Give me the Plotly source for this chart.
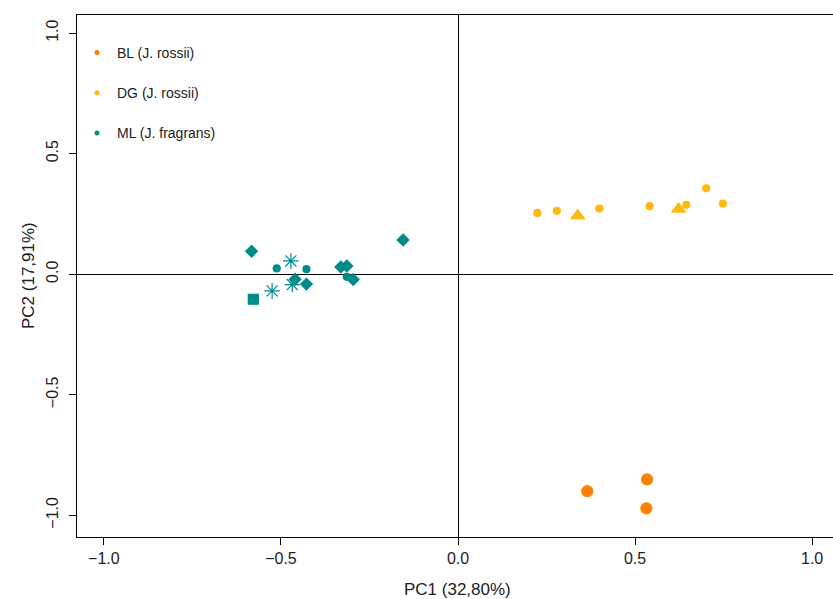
import plotly.graph_objects as go

# ---- data ----
bl_x = [0.365, 0.534, 0.532]
bl_y = [-0.900, -0.851, -0.971]
bl_sym = ["circle", "circle", "circle"]

dg_x = [0.224, 0.279, 0.338, 0.399, 0.541, 0.623, 0.645, 0.701, 0.748]
dg_y = [0.254, 0.263, 0.242, 0.272, 0.282, 0.270, 0.288, 0.356, 0.293]
dg_sym = ["circle", "circle", "triangle-up", "circle", "circle", "triangle-up", "circle", "circle", "circle"]

ml_x = [-0.583, -0.472, -0.512, -0.428, -0.331, -0.314, -0.155, -0.314, -0.296, -0.460, -0.468, -0.428, -0.525, -0.578]
ml_y = [0.095, 0.055, 0.024, 0.021, 0.030, 0.034, 0.142, -0.011, -0.022, -0.021, -0.043, -0.041, -0.069, -0.104]
ml_sym = ["diamond", "asterisk-open", "circle", "circle", "diamond", "diamond", "diamond", "circle",
          "diamond", "diamond", "asterisk-open", "diamond", "asterisk-open", "square"]

groups = ["BL (J. rossii)", "DG (J. rossii)", "ML (J. fragrans)"]
colors = ["#FF7F00", "#FFB90F", "#008B8B"]

x_ticks = [-1.0, -0.5, 0.0, 0.5, 1.0]
y_ticks = [-1.0, -0.5, 0.0, 0.5, 1.0]

SIZE = {"circle": 7, "diamond": 9, "square": 10, "triangle-up": 12, "asterisk-open": 13}

fig = go.Figure()

def add_points(xs, ys, syms, color, big=False):
    sizes = [SIZE[s] + (4 if big and s == "circle" else 0) for s in syms]
    fig.add_trace(go.Scatter(
        x=xs, y=ys, mode="markers", showlegend=False, hoverinfo="skip",
        marker=dict(symbol=syms, size=sizes, color=color, opacity=1,
                    line=dict(color=color, width=1.2)),
    ))

add_points(bl_x, bl_y, bl_sym, colors[0], big=True)
add_points(dg_x, dg_y, dg_sym, colors[1])
add_points(ml_x, ml_y, ml_sym, colors[2])

# legend entries
for i, (g, c) in enumerate(zip(groups, colors)):
    fig.add_trace(go.Scatter(
        x=[None], y=[None], mode="markers", name=g, legendgroup=g,
        marker=dict(symbol="circle", size=5, color=c, opacity=1),
    ))

FONT = "Liberation Sans, Arial"
TXT = "#222"

axis_common = dict(
    showgrid=False, zeroline=True, zerolinecolor="black", zerolinewidth=1,
    showline=True, linecolor="black", linewidth=1,
    ticks="outside", ticklen=7, tickcolor="black", tickwidth=1,
    tickfont=dict(family=FONT, size=16, color=TXT),
    tickformat=".1f", automargin=False,
)

fig.update_layout(
    width=833, height=599,
    margin=dict(l=77, r=0, t=15, b=62),
    paper_bgcolor="white", plot_bgcolor="white",
    font=dict(family=FONT, size=14, color=TXT),
    xaxis=dict(range=[-1.076, 1.059], tickvals=x_ticks, mirror=True, **axis_common),
    yaxis=dict(range=[-1.09, 1.075], tickvals=y_ticks, tickangle=-90, mirror=False,
               ticklabelstandoff=5, **axis_common),
    legend=dict(x=0.0, y=0.958, xanchor="left", yanchor="top",
                bgcolor="rgba(0,0,0,0)", font=dict(family=FONT, size=14, color=TXT),
                tracegroupgap=19, itemsizing="trace"),
    annotations=[
        dict(text="PC1 (32,80%)", xref="paper", yref="paper", x=0.503, y=0,
             yshift=-52, xanchor="center", yanchor="middle", showarrow=False,
             font=dict(family=FONT, size=17, color=TXT)),
        dict(text="PC2 (17,91%)", xref="paper", yref="paper", x=0, y=0.5,
             xshift=-49, xanchor="center", yanchor="middle", textangle=-90,
             showarrow=False, font=dict(family=FONT, size=17, color=TXT)),
    ],
)

fig.write_html(
    "out.html",
    config={"displayModeBar": False},
    post_script="document.body.style.margin='0';document.documentElement.style.overflow='hidden';",
)
